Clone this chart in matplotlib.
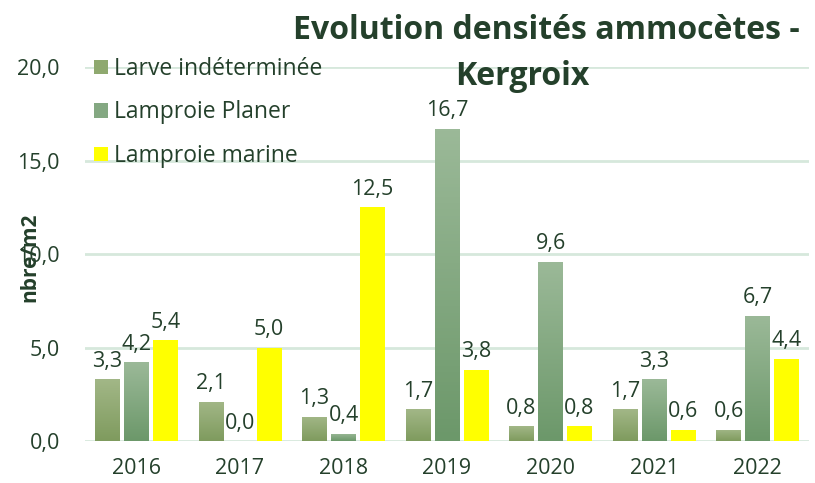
import matplotlib.pyplot as plt
import numpy as np
import matplotlib as mpl
from matplotlib.colors import LinearSegmentedColormap
from matplotlib.patches import Patch

mpl.rc('font', family='Open Sans', size=12)

years = ['2016', '2017', '2018', '2019', '2020', '2021', '2022']
larve = [3.3, 2.1, 1.3, 1.7, 0.8, 1.7, 0.6]
planer = [4.2, 0.0, 0.4, 16.7, 9.6, 3.3, 6.7]
marine = [5.4, 5.0, 12.5, 3.8, 0.8, 0.6, 4.4]
series_names = ['Larve indéterminée', 'Lamproie Planer', 'Lamproie marine']

txt = '#24402b'
grid_col = '#d6e8dc'

# gradients (bottom colour, top colour)
grads = [('#7f9b5e', '#a2b787'), ('#6c986a', '#9bb998'), ('#ffff00', '#ffff00')]
legend_cols = ['#8fa96f', '#84a882', '#ffff00']

fig = plt.figure(figsize=(8.15, 4.83), dpi=100)
ax = fig.add_axes([0.104, 0.087, 0.889, 0.774])

x = np.arange(len(years))
w = 0.237
step = 0.28
grad = np.linspace(0, 1, 100).reshape(-1, 1)

for i, vals in enumerate([larve, planer, marine]):
    pos = x + (i - 1) * step
    cmap = LinearSegmentedColormap.from_list('g%d' % i, list(grads[i]))
    bars = ax.bar(pos, vals, width=w, color='none', edgecolor='none', zorder=2)
    for b, v in zip(bars, vals):
        if v > 0:
            im = ax.imshow(grad, cmap=cmap, origin='lower', aspect='auto',
                           extent=[b.get_x(), b.get_x() + w, 0, v], zorder=2)
            im.set_clip_path(b)
        ax.text(b.get_x() + w / 2, v + 0.4, ('%.1f' % v).replace('.', ','),
                ha='center', va='bottom', color=txt, fontsize=15.5)

ax.set_xlim(-0.5, len(years) - 0.5)
ax.set_ylim(0, 20)
ax.set_yticks([0, 5, 10, 15, 20])
ax.set_yticklabels(['0,0', '5,0', '10,0', '15,0', '20,0'])
ax.set_xticks(x)
ax.set_xticklabels(years)
ax.tick_params(length=0, labelsize=15.5, labelcolor=txt)
ax.tick_params(axis='x', pad=12)
ax.tick_params(axis='y', pad=18)
for s in ax.spines.values():
    s.set_visible(False)
ax.yaxis.grid(True, color=grid_col, linewidth=2, zorder=0)
ax.set_axisbelow(True)

# axis title sits over the "10,0" label, as in the original
fig.text(0.037, 0.468, 'nbre/m2', rotation=90, ha='center', va='center',
         fontsize=15, fontweight='bold', color=txt)

fig.text(0.670, 0.936, 'Evolution densités ammocètes -', ha='center', va='center',
         fontsize=23, fontweight='bold', color=txt)
fig.text(0.641, 0.842, 'Kergroix', ha='center', va='center',
         fontsize=23, fontweight='bold', color=txt)

handles = [Patch(facecolor=c, edgecolor='none') for c in legend_cols]
ax.legend(handles, series_names, loc='upper left', bbox_to_anchor=(-0.006, 1.064),
          frameon=False, fontsize=16.5, labelcolor=txt, handlelength=0.6,
          handleheight=0.6, handletextpad=0.25, labelspacing=0.85,
          borderaxespad=0.2)

plt.savefig('out.png', dpi=100)
